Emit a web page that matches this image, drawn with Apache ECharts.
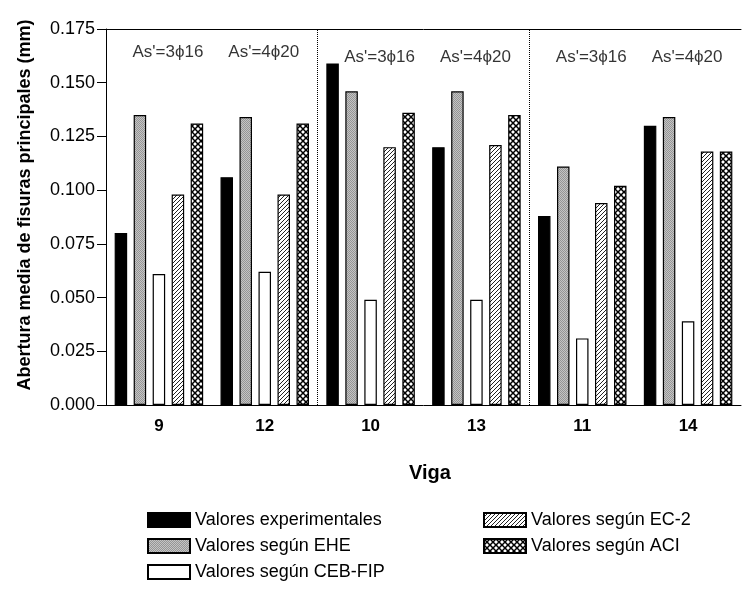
<!DOCTYPE html>
<html>
<head>
<meta charset="utf-8">
<script src="https://cdn.jsdelivr.net/npm/echarts@6/dist/echarts.min.js"></script>
<style>
html,body{margin:0;padding:0;background:#fff;}
#chart{width:742px;height:594px;}
</style>
</head>
<body>
<div id="chart"></div>
<script>
// ---- data ----
const categories = ['9', '12', '10', '13', '11', '14'];
const experimental = [0.080, 0.106, 0.159, 0.120, 0.088, 0.130];
const ehe = [0.135, 0.134, 0.146, 0.146, 0.111, 0.134];
const cebfip = [0.061, 0.062, 0.049, 0.049, 0.031, 0.039];
const ec2 = [0.098, 0.098, 0.120, 0.121, 0.094, 0.118];
const aci = [0.131, 0.131, 0.136, 0.135, 0.102, 0.118];
const seriesNames = ['Valores experimentales', 'Valores según EHE', 'Valores según CEB-FIP', 'Valores según EC-2', 'Valores según ACI'];
const annotLabels = ["As'=3ϕ16", "As'=4ϕ20", "As'=3ϕ16", "As'=4ϕ20", "As'=3ϕ16", "As'=4ϕ20"];
const annotY = [0.164, 0.164, 0.162, 0.162, 0.162, 0.162];
const separators = [2, 4];
const yTicks = { min: 0, max: 0.175, interval: 0.025 };
const yTitle = 'Abertura media de fisuras principales (mm)';
const xTitle = 'Viga';

// ---- patterns ----
const FONT = '"Liberation Sans", Arial, sans-serif';
function makeTile(size, draw) {
  const c = document.createElement('canvas');
  c.width = size; c.height = size;
  const ctx = c.getContext('2d');
  draw(ctx, size);
  return { image: c, repeat: 'repeat' };
}
const grayPat = makeTile(2, (ctx) => {
  ctx.fillStyle = '#c4c4c4'; ctx.fillRect(0, 0, 2, 2);
  ctx.fillStyle = '#959595'; ctx.fillRect(0, 0, 1, 1); ctx.fillRect(1, 1, 1, 1);
});
const hatchPat = makeTile(4, (ctx, s) => {
  ctx.fillStyle = '#fff'; ctx.fillRect(0, 0, s, s);
  ctx.strokeStyle = '#222'; ctx.lineWidth = 1;
  ctx.beginPath();
  ctx.moveTo(-1, s + 1); ctx.lineTo(s + 1, -1);
  ctx.moveTo(-1, 1); ctx.lineTo(1, -1);
  ctx.moveTo(s - 1, s + 1); ctx.lineTo(s + 1, s - 1);
  ctx.stroke();
});
const crossPat = makeTile(6, (ctx, s) => {
  ctx.fillStyle = '#fff'; ctx.fillRect(0, 0, s, s);
  ctx.strokeStyle = '#000'; ctx.lineWidth = 1.5;
  ctx.beginPath();
  ctx.moveTo(-1, -1); ctx.lineTo(s + 1, s + 1);
  ctx.moveTo(-1, s + 1); ctx.lineTo(s + 1, -1);
  ctx.stroke();
});

const fills = ['#000', grayPat, '#fff', hatchPat, crossPat];
const values = [experimental, ehe, cebfip, ec2, aci];

const barSeries = values.map((v, i) => ({
  name: seriesNames[i],
  type: 'bar',
  data: v,
  barWidth: 12.5,
  barGap: '52%',
  itemStyle: { color: fills[i], borderColor: '#000', borderWidth: 1.2 },
  emphasis: { disabled: true }
}));

const legendBase = {
  orient: 'vertical', top: 511, icon: 'rect',
  itemWidth: 42, itemHeight: 14, itemGap: 8, padding: 0,
  textStyle: { fontSize: 18, fontFamily: FONT, color: '#000' },
  selectedMode: false
};

const chart = echarts.init(document.getElementById('chart'), null, { renderer: 'canvas' });
chart.setOption({
  animation: false,
  textStyle: { fontFamily: FONT, color: '#000' },
  grid: { left: 106, right: 1, top: 29, bottom: 189, containLabel: false },
  legend: [
    Object.assign({}, legendBase, { data: seriesNames.slice(0, 3), left: 147 }),
    Object.assign({}, legendBase, { data: seriesNames.slice(3), left: 483 })
  ],
  xAxis: [
    {
      type: 'category', data: categories, position: 'bottom',
      axisLine: { lineStyle: { color: '#000', width: 1 } },
      axisTick: { show: false },
      axisLabel: { fontSize: 17, fontWeight: 'bold', color: '#000', margin: 13, fontFamily: FONT },
      name: xTitle, nameLocation: 'middle', nameGap: 58,
      nameTextStyle: { fontSize: 20, fontWeight: 'bold', color: '#000', fontFamily: FONT, padding: [0, 0, 0, 13] }
    },
    {
      type: 'value', min: 0, max: 6, position: 'top',
      axisLine: { show: true, onZero: false, lineStyle: { color: '#000', width: 1 } },
      axisTick: { show: false }, axisLabel: { show: false }, splitLine: { show: false }
    }
  ],
  yAxis: {
    type: 'value', min: yTicks.min, max: yTicks.max, interval: yTicks.interval,
    axisLine: { show: true, lineStyle: { color: '#000', width: 1 } },
    axisTick: { show: true, length: 9, lineStyle: { color: '#000' } },
    axisLabel: { fontSize: 18, color: '#000', margin: 11, fontFamily: FONT, formatter: (v) => v.toFixed(3) },
    splitLine: { show: false }
  },
  graphic: [
    {
      type: 'text', x: 25, y: 205, rotation: Math.PI / 2,
      style: { text: yTitle, fontSize: 18, fontWeight: 'bold', fontFamily: FONT, fill: '#000', align: 'center', verticalAlign: 'middle' }
    }
  ],
  series: barSeries.concat([
    {
      name: 'annotations', type: 'scatter', xAxisIndex: 0,
      data: categories.map((c, i) => [i, annotY[i]]),
      symbolSize: 0, silent: true,
      label: {
        show: true, position: 'inside', fontSize: 17, color: '#000', fontFamily: FONT,
        formatter: (p) => annotLabels[p.dataIndex]
      },
      labelLayout: (p) => ({ dx: p.dataIndex % 2 === 0 ? 9 : -1 })
    },
    {
      name: 'separators', type: 'line', xAxisIndex: 1, data: [], silent: true,
      markLine: {
        silent: true, symbol: ['none', 'none'], animation: false,
        label: { show: false },
        lineStyle: { type: 'dotted', color: '#000', width: 1 },
        data: separators.map((v) => ({ xAxis: v }))
      }
    }
  ])
});
</script>
</body>
</html>
